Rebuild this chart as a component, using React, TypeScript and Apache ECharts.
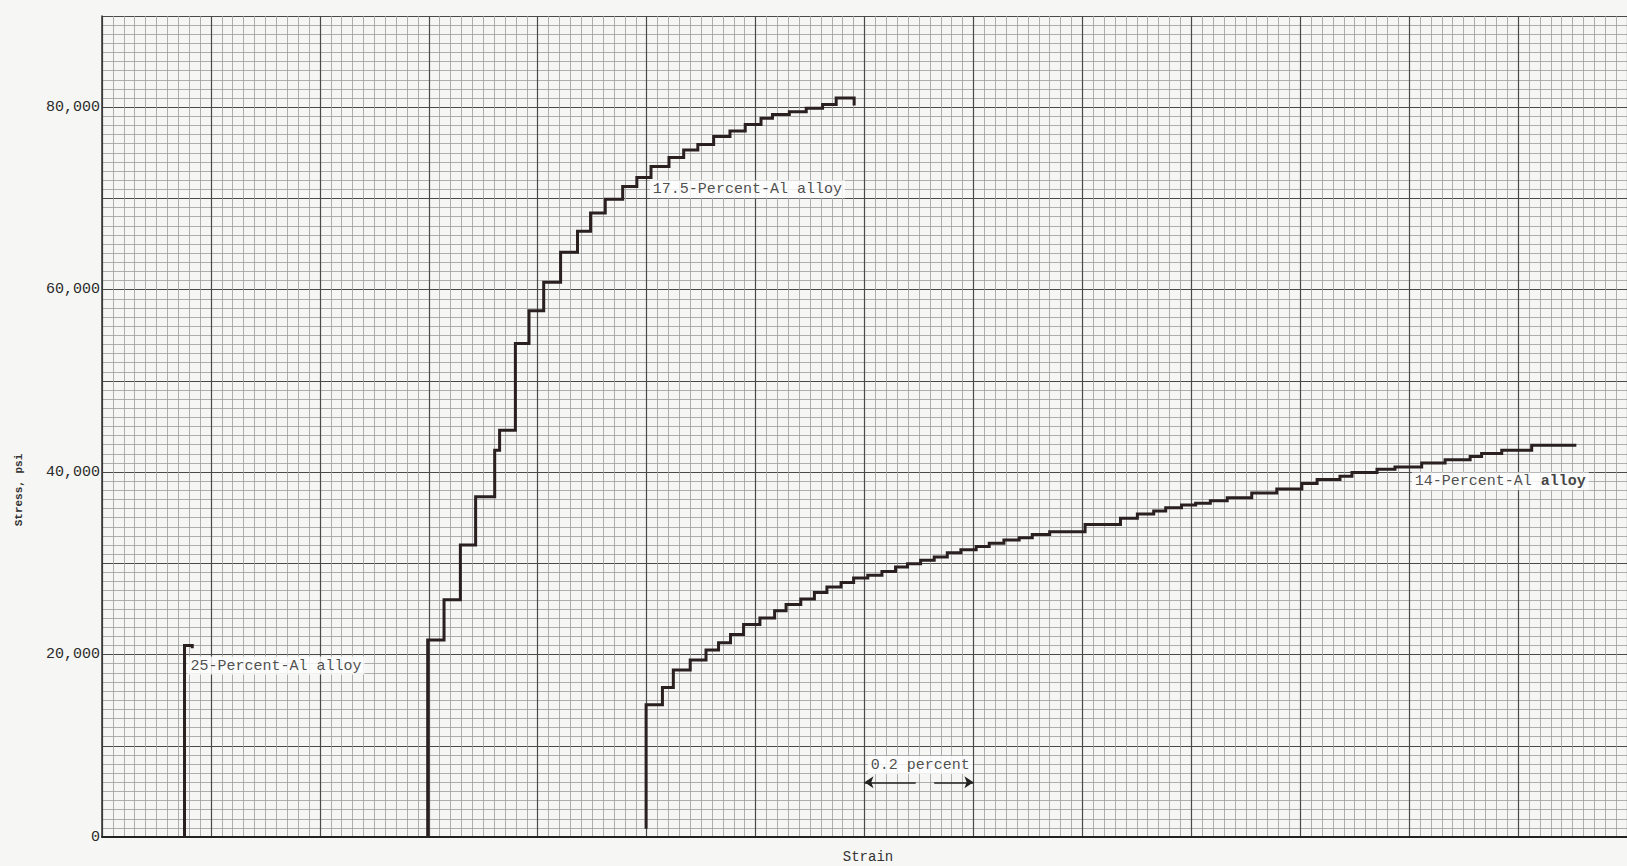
import React, { useEffect, useRef } from 'react';
import * as echarts from 'echarts';

// ---- axes ----
const strainMin = 0; // percent
const strainMax = 2.8;
const strainMajor = 0.2;
const stressMin = 0; // psi
const stressMax = 90000;
const stressMajor = 10000;
const yTickLabels = [0, 20000, 40000, 60000, 80000];

// ---- 25-Percent-Al alloy ----
const alloy25Strain = [0.1515, 0.1515, 0.1657, 0.1657];
const alloy25Stress = [0, 21000, 21000, 20700];

// ---- 17.5-Percent-Al alloy ----
const alloy175Strain = [
  0.598, 0.598, 0.628, 0.658, 0.686, 0.721, 0.730, 0.759, 0.784, 0.811,
  0.842, 0.873, 0.897, 0.924, 0.956, 0.982, 1.008, 1.041, 1.068, 1.094,
  1.123, 1.153, 1.181, 1.210, 1.231, 1.262, 1.293, 1.323, 1.348, 1.381,
  1.381,
];
const alloy175Stress = [
  0, 21600, 26000, 32000, 37300, 42400, 44600, 54100, 57700, 60800,
  64100, 66400, 68400, 69900, 71300, 72300, 73500, 74500, 75300, 75900,
  76800, 77400, 78100, 78800, 79200, 79500, 79900, 80300, 81000, 81000,
  80200,
];

// ---- 14-Percent-Al alloy ----
const alloy14Strain = [
  0.999, 0.999, 1.029, 1.049, 1.080, 1.109, 1.132, 1.154, 1.178, 1.208,
  1.235, 1.256, 1.283, 1.308, 1.331, 1.357, 1.380, 1.406, 1.432, 1.457,
  1.479, 1.503, 1.528, 1.552, 1.577, 1.605, 1.629, 1.656, 1.684, 1.708,
  1.740, 1.805, 1.870, 1.901, 1.931, 1.953, 1.982, 2.008, 2.035, 2.066,
  2.111, 2.157, 2.203, 2.231, 2.273, 2.295, 2.341, 2.374, 2.423, 2.466,
  2.512, 2.533, 2.570, 2.625, 2.707,
];
const alloy14Stress = [
  900, 14500, 16400, 18300, 19400, 20500, 21300, 22200, 23300, 24000,
  24800, 25500, 26100, 26800, 27400, 27900, 28400, 28700, 29100, 29600,
  29950, 30350, 30700, 31150, 31500, 31850, 32200, 32550, 32800, 33150,
  33450, 34250, 34950, 35400, 35750, 36100, 36400, 36600, 36850, 37200,
  37700, 38150, 38750, 39200, 39550, 39950, 40300, 40550, 41000, 41350,
  41700, 42050, 42400, 42950, 42950,
];

// ---- annotations (data coordinates of label's left edge) ----
const annotationTexts = ['25-Percent-Al alloy', '17.5-Percent-Al alloy', '14-Percent-Al alloy', '0.2 percent'];
const annotationStrain = [0.156, 1.005, 2.404, 1.405];
const annotationStress = [18800, 71000, 39000, 7900];

// ---- 0.2 percent scale bar ----
const scaleBarStrain = [1.4, 1.494, 1.528, 1.6];
const scaleBarStress = 6000;

const MONO = '"Liberation Mono", "DejaVu Sans Mono", monospace';
const CURVE_COLOR = '#2a2020';

function zip(xs: number[], ys: number[]) {
  return xs.map((x, i) => [x, ys[i]]);
}

export default function App() {
  const ref = useRef<HTMLDivElement>(null);

  useEffect(() => {
    if (!ref.current) return;
    const chart = echarts.init(ref.current, undefined, { renderer: 'svg' });

    const curve = (name: string, xs: number[], ys: number[]) => ({
      name,
      type: 'line',
      step: 'end',
      data: zip(xs, ys),
      symbol: 'none',
      silent: true,
      z: 3,
      lineStyle: { color: CURVE_COLOR, width: 3, join: 'miter' },
    });

    const option: any = {
      animation: false,
      backgroundColor: '#f6f6f4',
      grid: { left: 102, right: -2, top: 16, bottom: 29, containLabel: false },
      xAxis: {
        type: 'value',
        min: strainMin,
        max: strainMax,
        interval: strainMajor,
        axisLabel: { show: false },
        axisTick: { show: false },
        axisLine: { show: true, onZero: false, lineStyle: { color: '#222', width: 2 } },
        splitLine: { show: true, lineStyle: { color: '#4a4a4a', width: 1.2 } },
        minorTick: { show: false, splitNumber: 10 },
        minorSplitLine: { show: true, lineStyle: { color: '#9c9c9c', width: 0.8 } },
      },
      yAxis: {
        type: 'value',
        min: stressMin,
        max: stressMax,
        interval: stressMajor,
        axisLabel: {
          show: true,
          margin: 2,
          color: '#2a2a2a',
          fontFamily: MONO,
          fontSize: 15,
          formatter: (v: number) => (yTickLabels.includes(v) ? v.toLocaleString('en-US') : ''),
        },
        axisTick: { show: false },
        axisLine: { show: true, onZero: false, lineStyle: { color: '#333', width: 1.5 } },
        splitLine: { show: true, lineStyle: { color: '#4a4a4a', width: 1.2 } },
        minorTick: { show: false, splitNumber: 10 },
        minorSplitLine: { show: true, lineStyle: { color: '#9c9c9c', width: 0.8 } },
      },
      graphic: [
        {
          type: 'text',
          x: 19,
          y: 490,
          rotation: Math.PI / 2,
          style: {
            text: 'Stress, psi',
            fontFamily: MONO,
            fontSize: 11,
            fontWeight: 'bold',
            fill: '#333',
            align: 'center',
            verticalAlign: 'middle',
            textAlign: 'center',
            textVerticalAlign: 'middle',
          },
        },
        {
          type: 'text',
          x: 868,
          y: 857,
          style: {
            text: 'Strain',
            fontFamily: MONO,
            fontSize: 14,
            fill: '#333',
            align: 'center',
            verticalAlign: 'middle',
            textAlign: 'center',
            textVerticalAlign: 'middle',
          },
        },
      ],
      series: [
        curve('25-Percent-Al alloy', alloy25Strain, alloy25Stress),
        curve('17.5-Percent-Al alloy', alloy175Strain, alloy175Stress),
        curve('14-Percent-Al alloy', alloy14Strain, alloy14Stress),
        {
          name: 'annotations',
          type: 'scatter',
          silent: true,
          z: 5,
          symbolSize: 1,
          itemStyle: { color: 'rgba(0,0,0,0)' },
          data: annotationTexts.map((t, i) => ({ name: t, value: [annotationStrain[i], annotationStress[i]] })),
          label: {
            show: true,
            position: 'right',
            distance: 0,
            backgroundColor: '#ffffff',
            padding: [2, 3, 1, 3],
            color: '#222',
            fontFamily: MONO,
            fontSize: 15,
            formatter: (p: any) => {
              const t: string = p.name;
              if (t.startsWith('14')) {
                const idx = t.lastIndexOf(' ');
                return `{n|${t.slice(0, idx + 1)}}{b|${t.slice(idx + 1)}}`;
              }
              return `{n|${t}}`;
            },
            rich: {
              n: { fontFamily: MONO, fontSize: 15, color: '#222' },
              b: { fontFamily: MONO, fontSize: 15, color: '#111', fontWeight: 'bold' },
            },
          },
          markLine: {
            silent: true,
            symbol: ['none', 'arrow'],
            symbolSize: 9,
            label: { show: false },
            lineStyle: { color: '#222', width: 1.5, type: 'solid' },
            data: [
              [{ coord: [scaleBarStrain[1], scaleBarStress] }, { coord: [scaleBarStrain[0], scaleBarStress] }],
              [{ coord: [scaleBarStrain[2], scaleBarStress] }, { coord: [scaleBarStrain[3], scaleBarStress] }],
            ],
          },
        },
      ],
    };

    chart.setOption(option);
    return () => chart.dispose();
  }, []);

  return <div ref={ref} style={{ position: 'fixed', left: 0, top: 0, width: 1627, height: 866 }} />;
}
